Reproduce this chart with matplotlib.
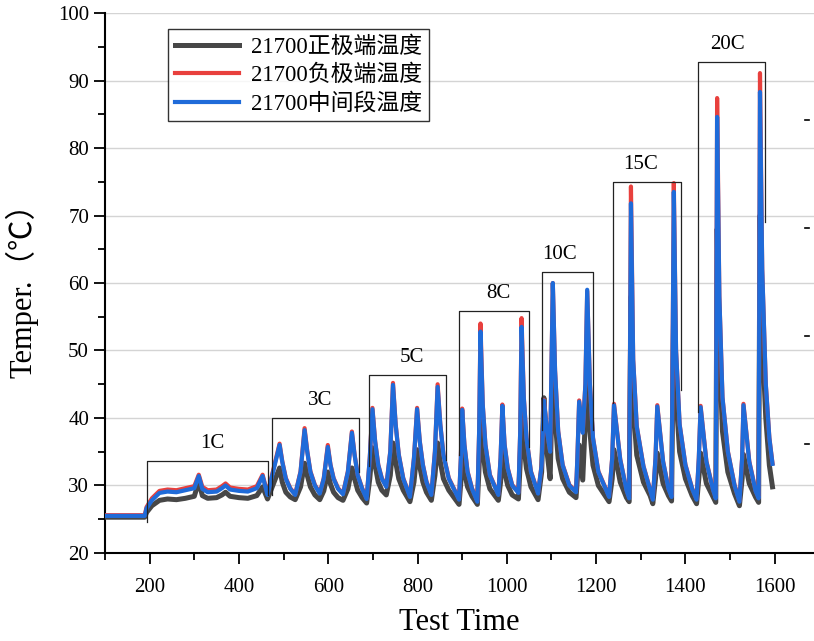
import matplotlib
matplotlib.use('Agg')
import matplotlib.pyplot as plt
from matplotlib.ticker import MultipleLocator

# temperature traces
test_time = [
    100, 189,
    193, 205, 222, 240, 260, 280, 300, 310, 318, 330, 350, 362, 370, 380, 400, 420, 440, 453, 464,
    491, 497, 505, 515, 526, 538, 547, 553, 560, 570, 581, 590, 599, 605, 612, 622, 633, 644, 653, 659, 666, 676, 686,
    693, 699, 705, 712, 720, 730, 739, 745, 751, 758, 768, 783, 792, 799, 805, 812, 820, 831, 839, 845, 851, 858, 870, 893,
    897, 900, 905, 912, 922, 934, 938, 941, 946, 952, 962, 981, 986, 990, 995, 1002, 1012, 1026, 1030, 1033, 1038, 1044, 1054, 1070,
    1078, 1083, 1090, 1097, 1103, 1108, 1115, 1125, 1140, 1155, 1158, 1162, 1170, 1176, 1180, 1186, 1193, 1205, 1229,
    1236, 1240, 1254, 1268, 1274, 1278, 1283, 1291, 1306, 1321, 1327, 1333, 1337, 1350, 1362, 1369, 1374, 1379, 1387, 1400, 1415, 1425,
    1430, 1434, 1447, 1462, 1468, 1471, 1476, 1483, 1495, 1510, 1521, 1527, 1530, 1543, 1557, 1564, 1567, 1572, 1580, 1588, 1595,
]
middle_temp = [
    25.5, 25.5,
    26.6, 27.8, 28.9, 29.1, 29.0, 29.3, 29.6, 31.4, 29.5, 29.0, 29.1, 29.6, 30.0, 29.4, 29.2, 29.1, 29.6, 31.4, 28.6,
    36.0, 33.5, 31.0, 29.5, 28.6, 32.0, 38.2, 35.0, 32.0, 30.0, 28.8, 31.0, 35.7, 33.0, 31.0, 29.5, 28.7, 32.0, 37.8, 34.5, 31.5, 29.5, 28.0,
    34.0, 41.3, 36.5, 33.0, 31.0, 29.8, 35.0, 44.9, 39.0, 34.5, 31.0, 28.3, 34.0, 41.3, 36.5, 33.0, 30.5, 28.6, 35.0, 44.6, 39.0, 34.5, 31.0, 27.9,
    34.0, 41.2, 36.0, 32.0, 29.5, 27.6, 38.0, 52.8, 42.0, 36.0, 31.5, 28.6, 34.0, 41.8, 36.0, 32.5, 30.0, 28.9, 38.0, 53.5, 43.0, 37.0, 32.0, 28.8,
    33.0, 42.6, 38.0, 35.0, 60.0, 47.0, 38.0, 33.0, 30.0, 29.0, 34.0, 42.4, 37.8, 45.0, 59.0, 45.0, 37.0, 32.0, 28.3,
    34.0, 41.9, 33.8, 29.3, 28.1, 71.8, 48.6, 38.7, 32.8, 29.3, 27.9, 34.0, 41.7, 33.5, 29.5, 28.3, 73.5, 50.0, 39.0, 33.0, 29.5, 27.9,
    34.0, 41.6, 33.5, 29.3, 28.1, 84.6, 58.0, 43.0, 35.0, 30.0, 27.6, 34.0, 41.9, 33.5, 29.2, 28.1, 88.3, 62.0, 45.0, 37.0, 33.2,
]
negative_temp = [
    25.6, 25.6,
    26.8, 28.1, 29.2, 29.4, 29.3, 29.6, 29.9, 31.6, 29.8, 29.3, 29.4, 29.9, 30.3, 29.7, 29.5, 29.4, 29.9, 31.6, 28.8,
    36.2, 33.6, 31.1, 29.6, 28.7, 32.1, 38.5, 35.1, 32.1, 30.1, 28.9, 31.1, 36.0, 33.1, 31.1, 29.6, 28.8, 32.1, 38.0, 34.6, 31.6, 29.6, 28.1,
    34.1, 41.5, 36.6, 33.1, 31.1, 29.9, 35.1, 45.2, 39.1, 34.6, 31.1, 28.4, 34.1, 41.5, 36.6, 33.1, 30.6, 28.7, 35.1, 45.0, 39.1, 34.6, 31.1, 28.0,
    34.1, 41.4, 36.1, 32.1, 29.6, 27.7, 38.1, 54.0, 42.1, 36.1, 31.6, 28.7, 34.1, 42.0, 36.1, 32.6, 30.1, 29.0, 38.1, 54.8, 43.1, 37.1, 32.1, 28.9,
    33.1, 42.7, 38.1, 35.1, 60.0, 47.1, 38.1, 33.1, 30.1, 29.1, 34.1, 42.6, 37.9, 45.1, 58.8, 45.1, 37.1, 32.1, 28.4,
    34.1, 42.1, 33.9, 29.4, 28.2, 74.3, 48.7, 38.8, 32.9, 29.4, 28.0, 34.1, 41.9, 33.6, 29.6, 28.4, 74.8, 50.1, 39.1, 33.1, 29.6, 28.0,
    34.1, 41.8, 33.6, 29.4, 28.2, 87.4, 58.1, 43.1, 35.1, 30.1, 27.7, 34.1, 42.1, 33.6, 29.3, 28.2, 91.1, 62.1, 45.1, 37.1, 33.3,
]
positive_temp = [
    25.3, 25.3,
    26.0, 27.0, 27.8, 28.0, 27.9, 28.1, 28.4, 30.6, 28.5, 28.1, 28.2, 28.6, 29.0, 28.4, 28.2, 28.1, 28.5, 29.8, 28.0,
    32.6, 30.5, 29.0, 28.3, 27.9, 29.8, 33.3, 31.5, 29.8, 28.6, 27.9, 29.2, 32.0, 30.2, 29.0, 28.2, 27.8, 29.5, 32.6, 31.0, 29.3, 28.2, 27.4,
    31.0, 35.6, 33.0, 30.5, 29.3, 28.6, 31.5, 36.3, 33.5, 31.0, 29.3, 27.6, 30.5, 35.3, 32.8, 30.5, 29.0, 27.8, 31.5, 36.3, 33.5, 31.0, 29.3, 27.2,
    30.5, 34.8, 32.0, 29.8, 28.4, 27.2, 33.0, 40.7, 35.5, 32.0, 29.5, 27.8, 30.5, 35.0, 32.0, 30.0, 28.6, 28.0, 33.5, 41.7, 36.0, 32.5, 29.8, 27.9,
    32.0, 43.0, 35.0, 31.0, 48.0, 40.0, 34.0, 31.0, 29.0, 28.2, 31.0, 36.0, 30.8, 40.0, 47.0, 38.0, 33.0, 30.0, 27.6,
    31.0, 35.3, 30.5, 28.2, 27.6, 58.0, 42.0, 34.5, 30.5, 28.5, 27.3, 31.0, 34.8, 30.3, 28.5, 27.7, 58.0, 43.0, 35.0, 31.0, 28.5, 27.3,
    31.0, 34.8, 30.3, 28.3, 27.5, 68.0, 50.0, 38.0, 32.0, 28.8, 27.0, 31.0, 34.6, 30.3, 28.3, 27.5, 70.0, 52.0, 40.0, 33.0, 29.8,
]

# C-rate brackets
rate_labels = ['1C', '3C', '5C', '8C', '10C', '15C', '20C']
box_left = [193, 473, 691, 892, 1078, 1238, 1428]
box_right = [464, 668, 863, 1049, 1193, 1390, 1578]
box_top = [33.6, 40.0, 46.4, 55.9, 61.6, 75.0, 92.7]
box_left_bottom = [24.6, 28.6, 32.9, 34.5, 38.2, 42.2, 40.9]
box_right_bottom = [28.6, 32.0, 33.8, 35.7, 38.2, 44.1, 69.0]
label_x = [341, 581, 787, 980, 1119, 1300, 1493]

# short dashes near the right edge
stray_y = [84.1, 68.1, 52.1, 36.1]

serif_cjk = ['Liberation Serif', 'Noto Sans CJK SC']
plt.rcParams['font.family'] = serif_cjk

fig = plt.figure(figsize=(8.14, 6.41), dpi=100)
ax = fig.add_axes([0.129, 0.1373, 0.871, 0.8424])

ax.plot(test_time, positive_temp, color='#474747', lw=3.6, label='21700正极端温度', zorder=3)
ax.plot(test_time, negative_temp, color='#e8403d', lw=3.0, label='21700负极端温度', zorder=4)
ax.plot(test_time, middle_temp, color='#1f6bd9', lw=3.0, label='21700中间段温度', zorder=5)

for i in range(len(rate_labels)):
    ax.plot([box_left[i], box_left[i], box_right[i], box_right[i]],
            [box_left_bottom[i], box_top[i], box_top[i], box_right_bottom[i]],
            color='#222222', lw=0.9, zorder=6)
    ax.text(label_x[i], box_top[i] + 2.6, rate_labels[i], fontsize=15,
            ha='center', va='center', zorder=7)

for y in stray_y:
    ax.plot([1668, 1676], [y, y], color='black', lw=1.2, clip_on=False)

ax.set_xlim(100, 1688)
ax.set_ylim(20, 100)
ax.xaxis.set_major_locator(MultipleLocator(200))
ax.xaxis.set_minor_locator(MultipleLocator(100))
ax.yaxis.set_major_locator(MultipleLocator(10))
ax.yaxis.set_minor_locator(MultipleLocator(5))
ax.set_xticks(range(200, 1601, 200))
ax.tick_params(which='major', length=8, width=1.3, labelsize=15, direction='out')
ax.tick_params(which='minor', length=5, width=1.3, direction='out')
ax.tick_params(axis='x', pad=10)
ax.grid(axis='y', color='#d4d4d4', lw=1.0)
ax.set_axisbelow(True)

for side in ['top', 'right']:
    ax.spines[side].set_visible(False)
for side in ['left', 'bottom']:
    ax.spines[side].set_linewidth(1.5)

ax.set_xlabel('Test Time', fontsize=22, labelpad=8)
ax.set_ylabel('Temper.（℃）', fontsize=22, labelpad=14)

leg = ax.legend(loc='upper left', bbox_to_anchor=(0.0889, 0.970), borderaxespad=0,
                fontsize=16.5, frameon=True, fancybox=False, handlelength=2.8,
                handletextpad=0.5, borderpad=0.3, labelspacing=0.3)
leg.get_frame().set_edgecolor('black')
leg.get_frame().set_linewidth(1.0)

fig.savefig('out.png', dpi=100)
